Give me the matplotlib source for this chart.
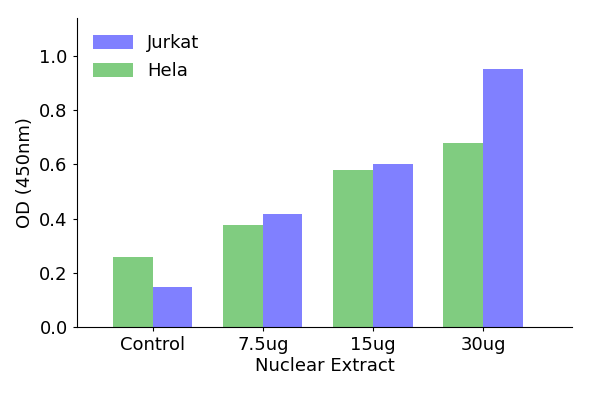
import numpy as np
import matplotlib
matplotlib.use("Agg")
import matplotlib.pyplot as plt

categories = ["Control", "7.5ug", "15ug", "30ug"]
hela = [0.257, 0.376, 0.579, 0.679]
jurkat = [0.148, 0.417, 0.601, 0.952]

x = np.arange(len(categories))
width = 0.36

fig = plt.figure(figsize=(5.9, 3.93), dpi=100)
ax = fig.add_axes([0.13, 0.168, 0.84, 0.786])

ax.bar(x - width / 2, hela, width, color="#80CC80", label="Hela", linewidth=0)
ax.bar(x + width / 2, jurkat, width, color="#8080FF", label="Jurkat", linewidth=0)

ax.set_xlim(-0.69, 3.81)
ax.set_ylim(0, 1.14)
ax.set_yticks([0.0, 0.2, 0.4, 0.6, 0.8, 1.0])
ax.set_xticks(x)
ax.set_xticklabels(categories)
ax.set_xlabel("Nuclear Extract", fontsize=13, labelpad=2)
ax.set_ylabel("OD (450nm)", fontsize=13)
ax.tick_params(labelsize=13, length=3)

ax.spines["top"].set_visible(False)
ax.spines["right"].set_visible(False)

# Jurkat listed first in the legend
handles, labels = ax.get_legend_handles_labels()
ax.legend(handles[::-1], labels[::-1], loc="upper left", frameon=False,
          fontsize=13, handlelength=2.2, handleheight=0.75,
          labelspacing=0.55, bbox_to_anchor=(0.0, 1.0))

fig.savefig("out.png", dpi=100)
